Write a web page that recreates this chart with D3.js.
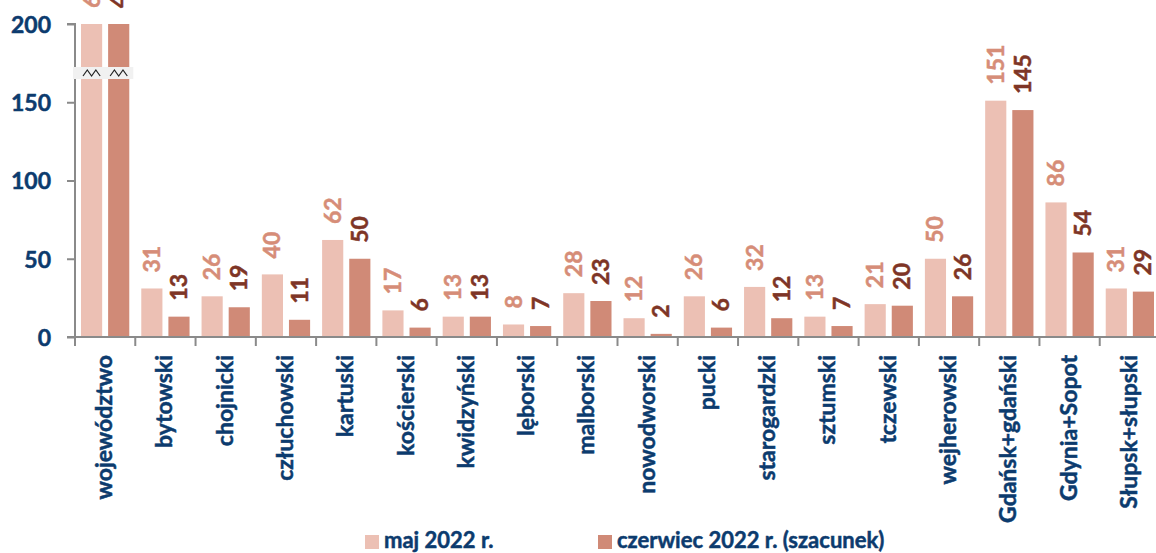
<!DOCTYPE html>
<html><head><meta charset="utf-8">
<script src="https://cdn.jsdelivr.net/npm/d3@7"></script>
<style>
html,body{margin:0;padding:0;background:#fff;}
svg{display:block;font-family:Lato, "Open Sans", sans-serif;font-weight:bold;}
svg text{paint-order:stroke;stroke-width:0.5px;}
</style></head>
<body>
<svg id="chart" width="1156" height="553"></svg>
<script>
const categories = ["województwo","bytowski","chojnicki","człuchowski","kartuski","kościerski","kwidzyński","lęborski","malborski","nowodworski","pucki","starogardzki","sztumski","tczewski","wejherowski","Gdańsk+gdański","Gdynia+Sopot","Słupsk+słupski"];
const seriesNames = ["maj 2022 r.","czerwiec 2022 r. (szacunek)"];
const maj = [647,31,26,40,62,17,13,8,28,12,26,32,13,21,50,151,86,31];
const czerwiec = [443,13,19,11,50,6,13,7,23,2,6,12,7,20,26,145,54,29];
const yTicks = [0,50,100,150,200];
const yMax = 200;

const barColors = ["#ecc0b4","#d08a77"];
const labelColors = ["#d68d78","#7e3526"];
const navy = "#0c3b6e";
const axisGray = "#8a8a8a";

const svg = d3.select("#chart");
const x = d3.scaleBand().domain(categories).range([75, 1160]).paddingInner(0).paddingOuter(0);
const bw = x.bandwidth();
const x1 = d3.scaleBand().domain([0,1]).range([6, bw-6]).paddingInner(0.22);
const y = d3.scaleLinear().domain([0, yMax]).range([337, 24]);

const series = [maj, czerwiec];

// bars
const g = svg.append("g");
series.forEach((vals, si) => {
  g.selectAll(null).data(categories).enter().append("rect")
    .attr("x", d => x(d) + x1(si))
    .attr("width", x1.bandwidth())
    .attr("y", (d,i) => y(Math.min(vals[i], yMax)))
    .attr("height", (d,i) => y(0) - y(Math.min(vals[i], yMax)))
    .attr("fill", barColors[si]);
});

// axes
const yAxis = d3.axisLeft(y).tickValues(yTicks).tickSize(8).tickPadding(16);
const ya = svg.append("g").attr("transform","translate(75,0)").call(yAxis);
ya.select(".domain").attr("stroke", axisGray).attr("stroke-width", 2).attr("d","M-8,24H0V337");
ya.selectAll(".tick line").attr("stroke", axisGray).attr("stroke-width", 2);
ya.selectAll(".tick text").attr("fill", navy).attr("stroke", navy).attr("font-size", 23).attr("font-family","Lato").attr("font-weight","bold").attr("dy","0.36em");

svg.append("line").attr("x1",67).attr("x2",1156).attr("y1",y(0)).attr("y2",y(0))
  .attr("stroke", axisGray).attr("stroke-width",2);
const bounds = categories.map(c => x(c)).concat([x.range()[1]]);
svg.selectAll(null).data(bounds).enter().append("line")
  .attr("x1", d=>d).attr("x2", d=>d).attr("y1", y(0)).attr("y2", y(0)+9)
  .attr("stroke", axisGray).attr("stroke-width", 2);

// break marker on the first category
const brkY = 73;
const c0 = categories[0];
svg.append("rect").attr("x", x(c0)-2).attr("y", brkY-6).attr("width", bw).attr("height", 12).attr("fill","#f1f1f1");
[0,1].forEach(si => {
  const x0 = x(c0) + x1(si) + 2, w = x1.bandwidth() - 4;
  const p = d3.path();
  p.moveTo(x0, brkY+3);
  p.lineTo(x0 + w*0.25, brkY-3);
  p.lineTo(x0 + w*0.5, brkY+3);
  p.lineTo(x0 + w*0.75, brkY-3);
  p.lineTo(x0 + w, brkY+3);
  svg.append("path").attr("d", p.toString()).attr("fill","none").attr("stroke","#222").attr("stroke-width",1.2);
});

// value labels
series.forEach((vals, si) => {
  svg.selectAll(null).data(categories).enter().append("text")
    .attr("transform", (d,i) => {
      const cx = x(d) + x1(si) + x1.bandwidth()/2 + 8;
      const ty = y(Math.min(vals[i], yMax)) - 16;
      return `translate(${cx},${ty}) rotate(-90)`;
    })
    .attr("text-anchor","start")
    .attr("font-size", 23)
    .attr("fill", labelColors[si])
    .attr("stroke", labelColors[si])
    .text((d,i) => vals[i]);
});

// category labels
svg.selectAll(null).data(categories).enter().append("text")
  .attr("transform", d => `translate(${x(d) + bw/2 + 7},355) rotate(-90)`)
  .attr("text-anchor","end")
  .attr("font-size", 23)
  .attr("fill", navy)
  .attr("stroke", navy)
  .text(d => d);

// legend
const legX = [365, 598];
seriesNames.forEach((n, si) => {
  svg.append("rect").attr("x", legX[si]).attr("y", 535).attr("width", 14).attr("height", 14).attr("fill", barColors[si]);
  svg.append("text").attr("x", legX[si] + 19).attr("y", 548).attr("font-size", 22).attr("fill", navy).attr("stroke", navy).text(n);
});
</script>
</body></html>
